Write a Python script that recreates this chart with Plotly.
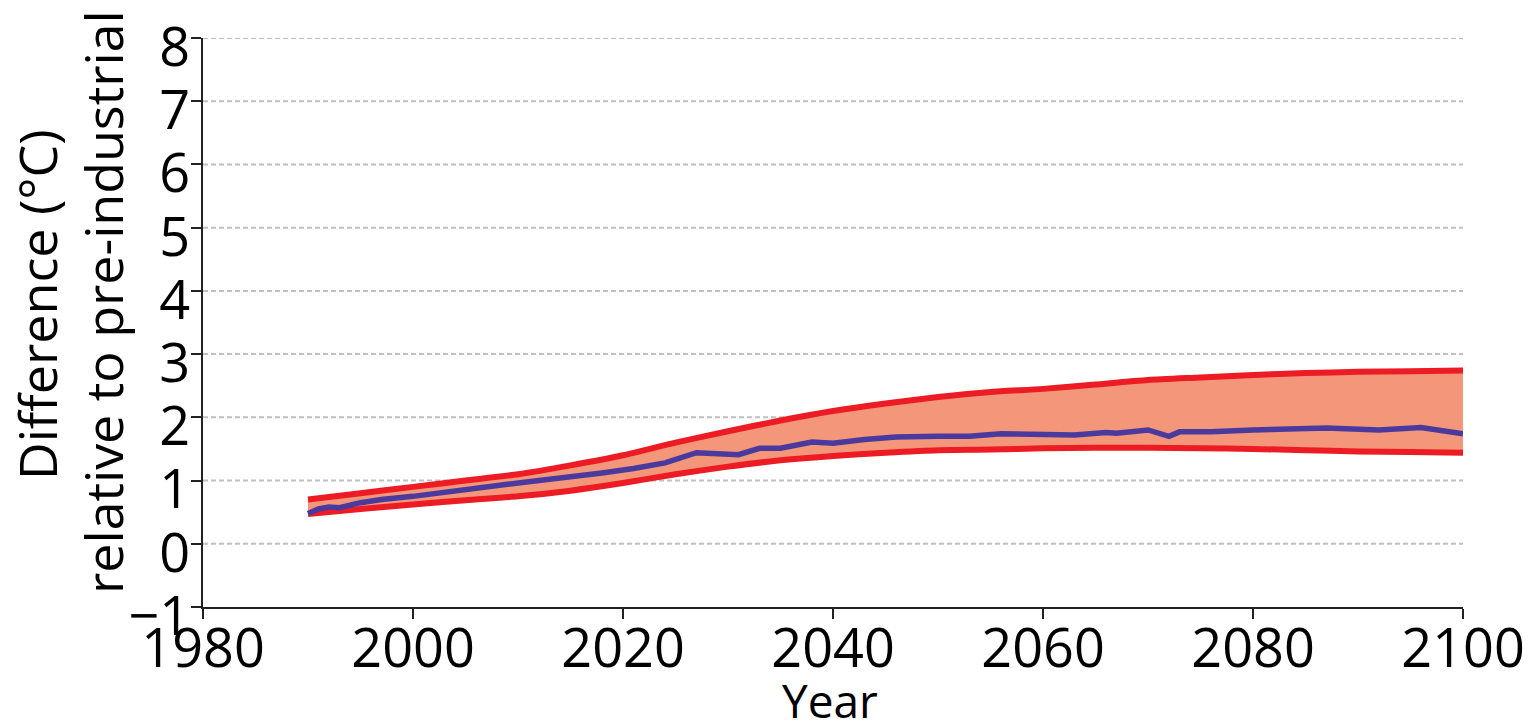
import plotly.graph_objects as go

# Envelope (upper / lower bounds), every 5 years
band_years = [1990, 1995, 2000, 2005, 2010, 2015, 2020, 2025, 2030, 2035, 2040,
              2045, 2050, 2055, 2060, 2065, 2070, 2075, 2080, 2085, 2090, 2095, 2100]
upper = [0.70, 0.80, 0.90, 1.00, 1.10, 1.24, 1.40, 1.60, 1.78, 1.95, 2.10,
         2.22, 2.32, 2.40, 2.45, 2.52, 2.59, 2.63, 2.67, 2.70, 2.72, 2.73, 2.74]
lower = [0.47, 0.55, 0.62, 0.69, 0.75, 0.84, 0.96, 1.10, 1.22, 1.32, 1.39,
         1.44, 1.48, 1.49, 1.51, 1.52, 1.52, 1.51, 1.50, 1.48, 1.46, 1.45, 1.44]

# Central (mean) projection
mean_years = [1990, 1991, 1992, 1993, 1995, 1997, 2000, 2003, 2006, 2009, 2012,
              2015, 2018, 2021, 2024, 2027, 2029, 2031, 2033, 2035, 2038, 2040,
              2043, 2046, 2050, 2053, 2056, 2060, 2063, 2066, 2067, 2070, 2072,
              2073, 2076, 2080, 2084, 2087, 2092, 2096, 2100]
mean = [0.48, 0.55, 0.58, 0.57, 0.65, 0.70, 0.75, 0.82, 0.88, 0.94, 1.00,
        1.05, 1.12, 1.19, 1.28, 1.44, 1.42, 1.41, 1.51, 1.51, 1.61, 1.59,
        1.65, 1.69, 1.70, 1.70, 1.74, 1.72, 1.72, 1.76, 1.75, 1.80, 1.70,
        1.77, 1.77, 1.80, 1.81, 1.83, 1.80, 1.84, 1.74]

x_ticks = [1980, 2000, 2020, 2040, 2060, 2080, 2100]
y_ticks = [-1, 0, 1, 2, 3, 4, 5, 6, 7, 8]

FONT = "Open Sans"
RED = "#ED1C24"
FILL = "#F4967A"
BLUE = "#4B3A9E"

fig = go.Figure()
fig.add_trace(go.Scatter(x=band_years, y=lower, mode="lines",
                         line=dict(width=0, color=FILL, shape="spline", smoothing=0.6),
                         showlegend=False, hoverinfo="skip"))
fig.add_trace(go.Scatter(x=band_years, y=upper, mode="lines", fill="tonexty",
                         fillcolor=FILL,
                         line=dict(width=0, color=FILL, shape="spline", smoothing=0.6),
                         showlegend=False, hoverinfo="skip"))
fig.add_trace(go.Scatter(x=band_years, y=upper, mode="lines",
                         line=dict(width=6, color=RED, shape="spline", smoothing=0.6),
                         showlegend=False))
fig.add_trace(go.Scatter(x=band_years, y=lower, mode="lines",
                         line=dict(width=6, color=RED, shape="spline", smoothing=0.6),
                         showlegend=False))
fig.add_trace(go.Scatter(x=mean_years, y=mean, mode="lines",
                         line=dict(width=5.5, color=BLUE),
                         showlegend=False))

fig.update_layout(
    width=1535, height=728,
    margin=dict(l=203, r=72, t=38, b=121),
    paper_bgcolor="white", plot_bgcolor="white",
    font=dict(family=FONT, color="black"),
    showlegend=False,
    xaxis=dict(range=[1980, 2100], tickvals=x_ticks, ticktext=[str(v) for v in x_ticks],
               showgrid=False, zeroline=False, showline=True, linecolor="#222",
               linewidth=2, ticks="outside", ticklen=10, tickwidth=2, tickcolor="#222",
               automargin=False, ticklabeloverflow="allow", ticklabelstandoff=-17,
               tickfont=dict(size=54, family=FONT, color="black")),
    yaxis=dict(range=[-1, 8], tickvals=y_ticks,
               ticktext=["\u22121" if v < 0 else str(v) for v in y_ticks],
               showgrid=False, zeroline=False, showline=True, linecolor="#222",
               linewidth=2, ticks="outside", ticklen=10, tickwidth=2, tickcolor="#222",
               automargin=False, ticklabeloverflow="allow",
               ticklabelstandoff=-10, ticklabelshift=9,
               tickfont=dict(size=54, family=FONT, color="black")),
)

# dashed gridlines 0..8
for v in y_ticks[1:]:
    fig.add_shape(type="line", xref="paper", x0=0, x1=1, yref="y", y0=v, y1=v,
                  line=dict(color="#C0C0C0", width=2, dash="5px,3px"), layer="below")

fig.add_annotation(text="Difference (°C)", textangle=-90, xref="paper", yref="paper",
                   x=(36 - 203) / 1260, y=(607 - 305) / 569, xanchor="center", yanchor="middle",
                   showarrow=False, font=dict(size=52, family=FONT, color="black"))
fig.add_annotation(text="relative to pre-industrial", textangle=-90, xref="paper", yref="paper",
                   x=(102 - 203) / 1260, y=(607 - 302) / 569, xanchor="center", yanchor="middle",
                   showarrow=False, font=dict(size=52, family=FONT, color="black"))
fig.add_annotation(text="Year", xref="paper", yref="paper",
                   x=(830 - 203) / 1260, y=(607 - 700) / 569, xanchor="center", yanchor="middle",
                   showarrow=False, font=dict(size=46, family=FONT, color="black"))

fig.write_html("out.html", config={"displayModeBar": False},
               post_script="document.body.style.margin='0';document.body.style.overflow='hidden';")
